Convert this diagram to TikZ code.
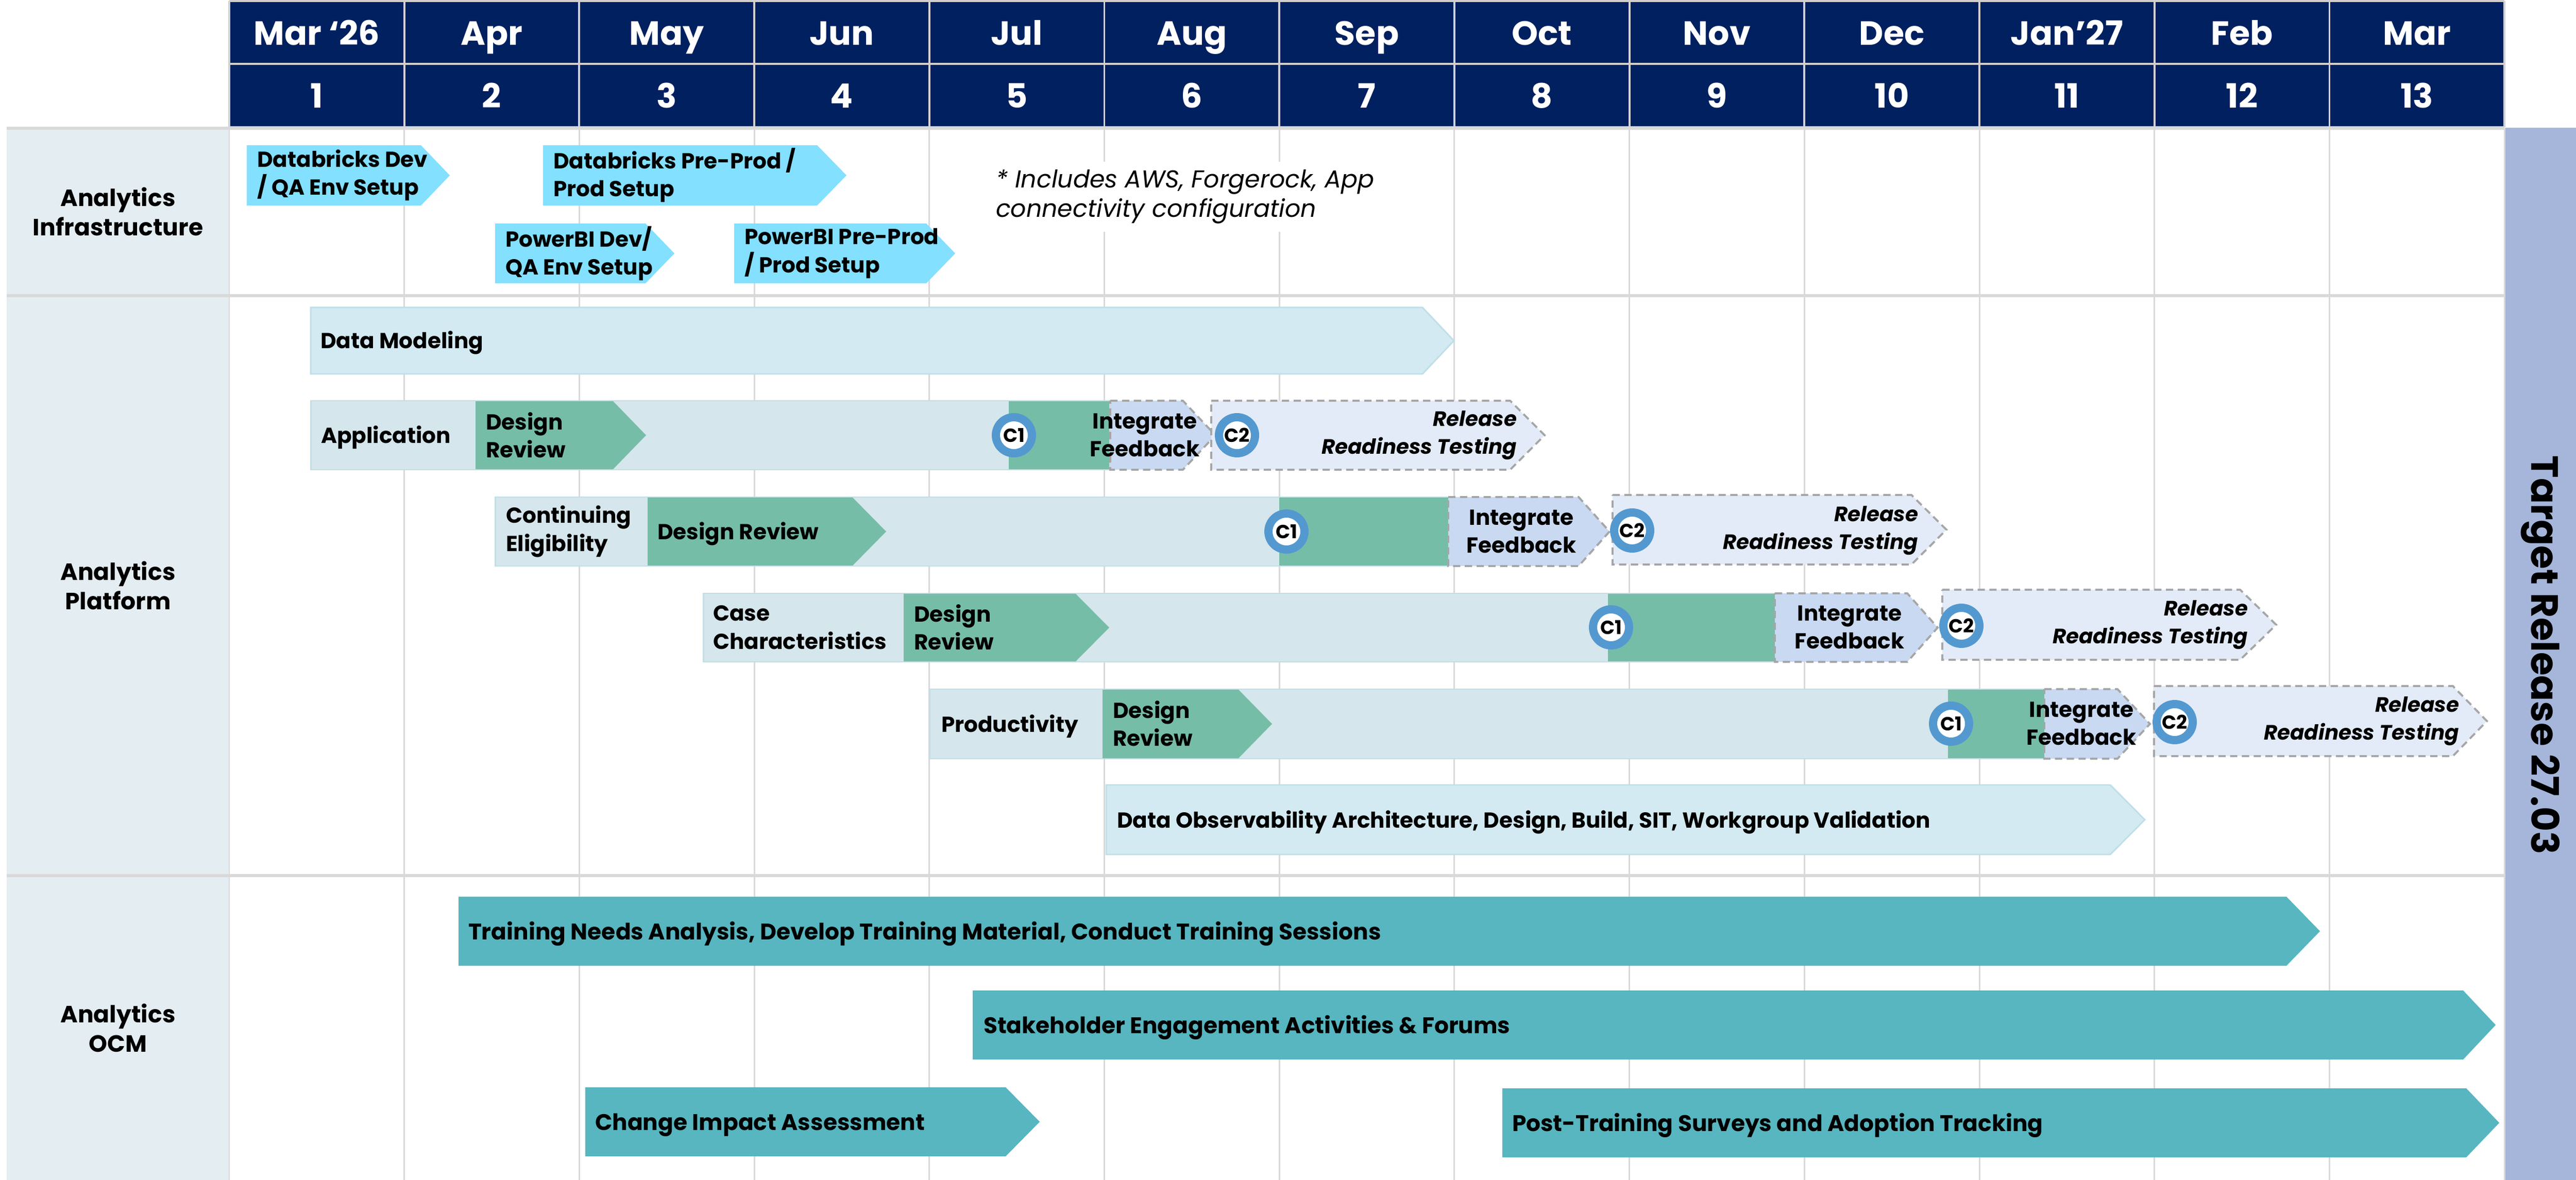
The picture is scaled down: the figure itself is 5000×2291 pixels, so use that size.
\documentclass[tikz,border=0pt]{standalone}
\usepackage{fontspec}
\setmainfont{Poppins}
\definecolor{navy}{HTML}{002060}
\definecolor{hdrline}{HTML}{D0D0D0}
\definecolor{gridc}{HTML}{D9D9D9}
\definecolor{panel}{HTML}{E4EDF1}
\definecolor{infra}{HTML}{83E0FF}
\definecolor{dmfill}{HTML}{D3EAF2}
\definecolor{dmline}{HTML}{C0DFE8}
\definecolor{band}{HTML}{D5E6EC}
\definecolor{bandline}{HTML}{C2DEE5}
\definecolor{green}{HTML}{76BDA7}
\definecolor{iffill}{HTML}{C9D9F2}
\definecolor{relfill}{HTML}{E3EBF8}
\definecolor{dashc}{HTML}{A6A6A6}
\definecolor{cblue}{HTML}{5399D0}
\definecolor{teal}{HTML}{57B6C0}
\definecolor{target}{HTML}{A6B6DA}
\newcommand\mkchev[6]{\path[#6] (#1,#4) -- (#2,#4) -- (#3,{(#4+#5)/2}) -- (#2,#5) -- (#1,#5) -- cycle;}
\begin{document}
\begin{tikzpicture}[x=0.1mm,y=-0.1mm,
  every node/.style={inner sep=0pt, outer sep=0pt},
  hdrtext/.style={anchor=base, text=white, font=\bfseries\fontsize{18.5}{22}\selectfont},
  lanetext/.style={align=center, font=\bfseries\fontsize{13}{16.2}\selectfont},
  bartext/.style={anchor=west, align=left, font=\bfseries\fontsize{12}{15.5}\selectfont},
  onetext/.style={anchor=base west, font=\bfseries\fontsize{12}{15.5}\selectfont},
  ocmtext/.style={anchor=base west, font=\bfseries\fontsize{12.5}{15}\selectfont},
  iftext/.style={align=center, font=\bfseries\fontsize{12}{15.5}\selectfont},
  reltext/.style={anchor=east, align=right, font=\bfseries\itshape\fontsize{11.5}{15.5}\selectfont},
  notetext/.style={anchor=west, align=left, font=\itshape\fontsize{13.5}{16.2}\selectfont},
  cnode/.style={circle, fill=white, draw=cblue, line width=4.55pt, minimum size=19.9pt, font=\bfseries\fontsize{10.5}{12}\selectfont},
  gridline/.style={draw=gridc, line width=0.85pt},
  lanesep/.style={draw=gridc, line width=1.7pt},
  hdrl/.style={draw=hdrline, line width=1.1pt},
  infrab/.style={fill=infra},
  dmbar/.style={fill=dmfill, draw=dmline, line width=0.85pt},
  bandbar/.style={fill=band, draw=bandline, line width=0.85pt},
  greenbar/.style={fill=green},
  ifbar/.style={fill=iffill, draw=dashc, line width=1.1pt, dash pattern=on 4pt off 2.5pt},
  relbar/.style={fill=relfill, draw=dashc, line width=1.1pt, dash pattern=on 4pt off 2.5pt},
  ocmbar/.style={fill=teal}
]
\useasboundingbox (0,0) rectangle (5000,2291);
\fill[white] (0,0) rectangle (5000,2291);
% header
\fill[navy] (445,2) rectangle (4861,247);
\foreach \k in {0,...,13} \draw[hdrl] ({445+\k*339.7},2) -- ({445+\k*339.7},247);
\draw[hdrl] (445,2) -- (4861,2);
\draw[hdrl] (445,124) -- (4861,124);
\draw[hdrl] (445,247) -- (4861,247);
\foreach \m [count=\k from 0] in {Mar ‘26,Apr,May,Jun,Jul,Aug,Sep,Oct,Nov,Dec,Jan’27,Feb,Mar}
  \node[hdrtext] (mon\k) at ({614.85+\k*339.7},88) {\m};
\foreach \k in {1,...,13}
  \node[hdrtext] (num\k) at ({614.85+(\k-1)*339.7},210) {\k};
% body background
\fill[panel] (13,248) rectangle (445,2291);
\foreach \k in {0,...,13} \draw[gridline] ({445+\k*339.7},248) -- ({445+\k*339.7},2291);
\draw[lanesep] (13,249) -- (4861,249);
\draw[lanesep] (13,574) -- (4861,574);
\draw[lanesep] (13,1700) -- (4861,1700);
\fill[target] (4863,248) rectangle (5000,2291);
\node[rotate=-90, font=\bfseries\fontsize{21}{25}\selectfont] (tr) at (4931,1272) {Target Release 27.03};
% lane labels
\node[lanetext] (lane1) at (229,411) {Analytics\\Infrastructure};
\node[lanetext] (lane2) at (229,1137) {Analytics\\Platform};
\node[lanetext] (lane3) at (229,1996) {Analytics\\OCM};
% infrastructure
\mkchev{479}{817}{873}{282}{399}{infrab}
\node[bartext] (a1) at (499,340) {Databricks Dev\\/ QA Env Setup};
\mkchev{1054}{1586}{1643}{282}{399}{infrab}
\node[bartext] (a2) at (1074,340) {Databricks Pre-Prod /\\Prod Setup};
\mkchev{961}{1253}{1309}{434}{550}{infrab}
\node[bartext] (a3) at (981,492) {PowerBI Dev/\\QA Env Setup};
\mkchev{1425}{1798}{1854}{434}{550}{infrab}
\node[bartext] (a4) at (1445,492) {PowerBI Pre-Prod\\/ Prod Setup};
\fill[white] (1900,314) rectangle (2700,450);
\node[notetext] (note) at (1933,382) {* Includes AWS, Forgerock, App\\connectivity configuration};
% platform: data modeling
\mkchev{603}{2761}{2822}{597}{726}{dmbar}
\node[onetext] (dm) at (622,677) {Data Modeling};
% application
\path[bandbar] (603,778) rectangle (2153,912);
\node[onetext] (app) at (623,861) {Application};
\mkchev{923}{1190}{1254}{779}{911}{greenbar}
\node[bartext] (appdr) at (943,845) {Design\\Review};
\fill[green] (1958,779) rectangle (2153,911);
\mkchev{2155}{2296}{2359}{778}{912}{ifbar}
\node[iftext] (appif) at (2222,845) {Integrate\\Feedback};
\mkchev{2351}{2931}{2998}{778}{912}{relbar}
\node[reltext] (apprel) at (2944,845) {Release\\Readiness Testing};
\node[cnode] (appc1) at (1968,845) {C1};
\node[cnode] (appc2) at (2401,845) {C2};
% continuing eligibility
\path[bandbar] (961,965) rectangle (2811,1099);
\node[bartext] (ce) at (982,1032) {Continuing\\Eligibility};
\mkchev{1257}{1655}{1720}{966}{1098}{greenbar}
\node[onetext] (cedr) at (1276,1048) {Design Review};
\fill[green] (2483,966) rectangle (2811,1098);
\mkchev{2811}{3064}{3124}{965}{1099}{ifbar}
\node[iftext] (ceif) at (2953,1032) {Integrate\\Feedback};
\mkchev{3130}{3710}{3778}{961}{1096}{relbar}
\node[reltext] (cerel) at (3723,1030) {Release\\Readiness Testing};
\node[cnode] (cec1) at (2497,1032) {C1};
\node[cnode] (cec2) at (3168,1030) {C2};
% case characteristics
\path[bandbar] (1365,1152) rectangle (3445,1285);
\node[bartext] (cc) at (1384,1218) {Case\\Characteristics};
\mkchev{1754}{2088}{2153}{1153}{1284}{greenbar}
\node[bartext] (ccdr) at (1774,1218) {Design\\Review};
\fill[green] (3121,1153) rectangle (3445,1284);
\mkchev{3445}{3702}{3761}{1152}{1285}{ifbar}
\node[iftext] (ccif) at (3590,1218) {Integrate\\Feedback};
\mkchev{3770}{4348}{4418}{1145}{1281}{relbar}
\node[reltext] (ccrel) at (4363,1213) {Release\\Readiness Testing};
\node[cnode] (ccc1) at (3127,1218) {C1};
\node[cnode] (ccc2) at (3807,1215) {C2};
% productivity
\path[bandbar] (1804,1338) rectangle (3968,1473);
\node[onetext] (pr) at (1827,1421) {Productivity};
\mkchev{2140}{2404}{2469}{1339}{1472}{greenbar}
\node[bartext] (prdr) at (2160,1405) {Design\\Review};
\fill[green] (3781,1339) rectangle (3968,1472);
\mkchev{3968}{4110}{4173}{1338}{1473}{ifbar}
\node[iftext] (prif) at (4040,1405) {Integrate\\Feedback};
\mkchev{4181}{4761}{4827}{1332}{1468}{relbar}
\node[reltext] (prrel) at (4773,1400) {Release\\Readiness Testing};
\node[cnode] (prc1) at (3787,1405) {C1};
\node[cnode] (prc2) at (4221,1402) {C2};
% data observability
\mkchev{2147}{4096}{4163}{1524}{1659}{dmbar}
\node[onetext] (dob) at (2168,1607) {Data Observability Architecture, Design, Build, SIT, Workgroup Validation};
% OCM
\mkchev{890}{4438}{4503}{1741}{1875}{ocmbar}
\node[ocmtext] (o1) at (909,1824) {Training Needs Analysis, Develop Training Material, Conduct Training Sessions};
\mkchev{1888}{4781}{4844}{1923}{2057}{ocmbar}
\node[ocmtext] (o2) at (1909,2006) {Stakeholder Engagement Activities \& Forums};
\mkchev{1136}{1952}{2018}{2111}{2245}{ocmbar}
\node[ocmtext] (o3) at (1155,2194) {Change Impact Assessment};
\mkchev{2916}{4787}{4851}{2113}{2247}{ocmbar}
\node[ocmtext] (o4) at (2935,2196) {Post-Training Surveys and Adoption Tracking};
\end{tikzpicture}
\end{document}
